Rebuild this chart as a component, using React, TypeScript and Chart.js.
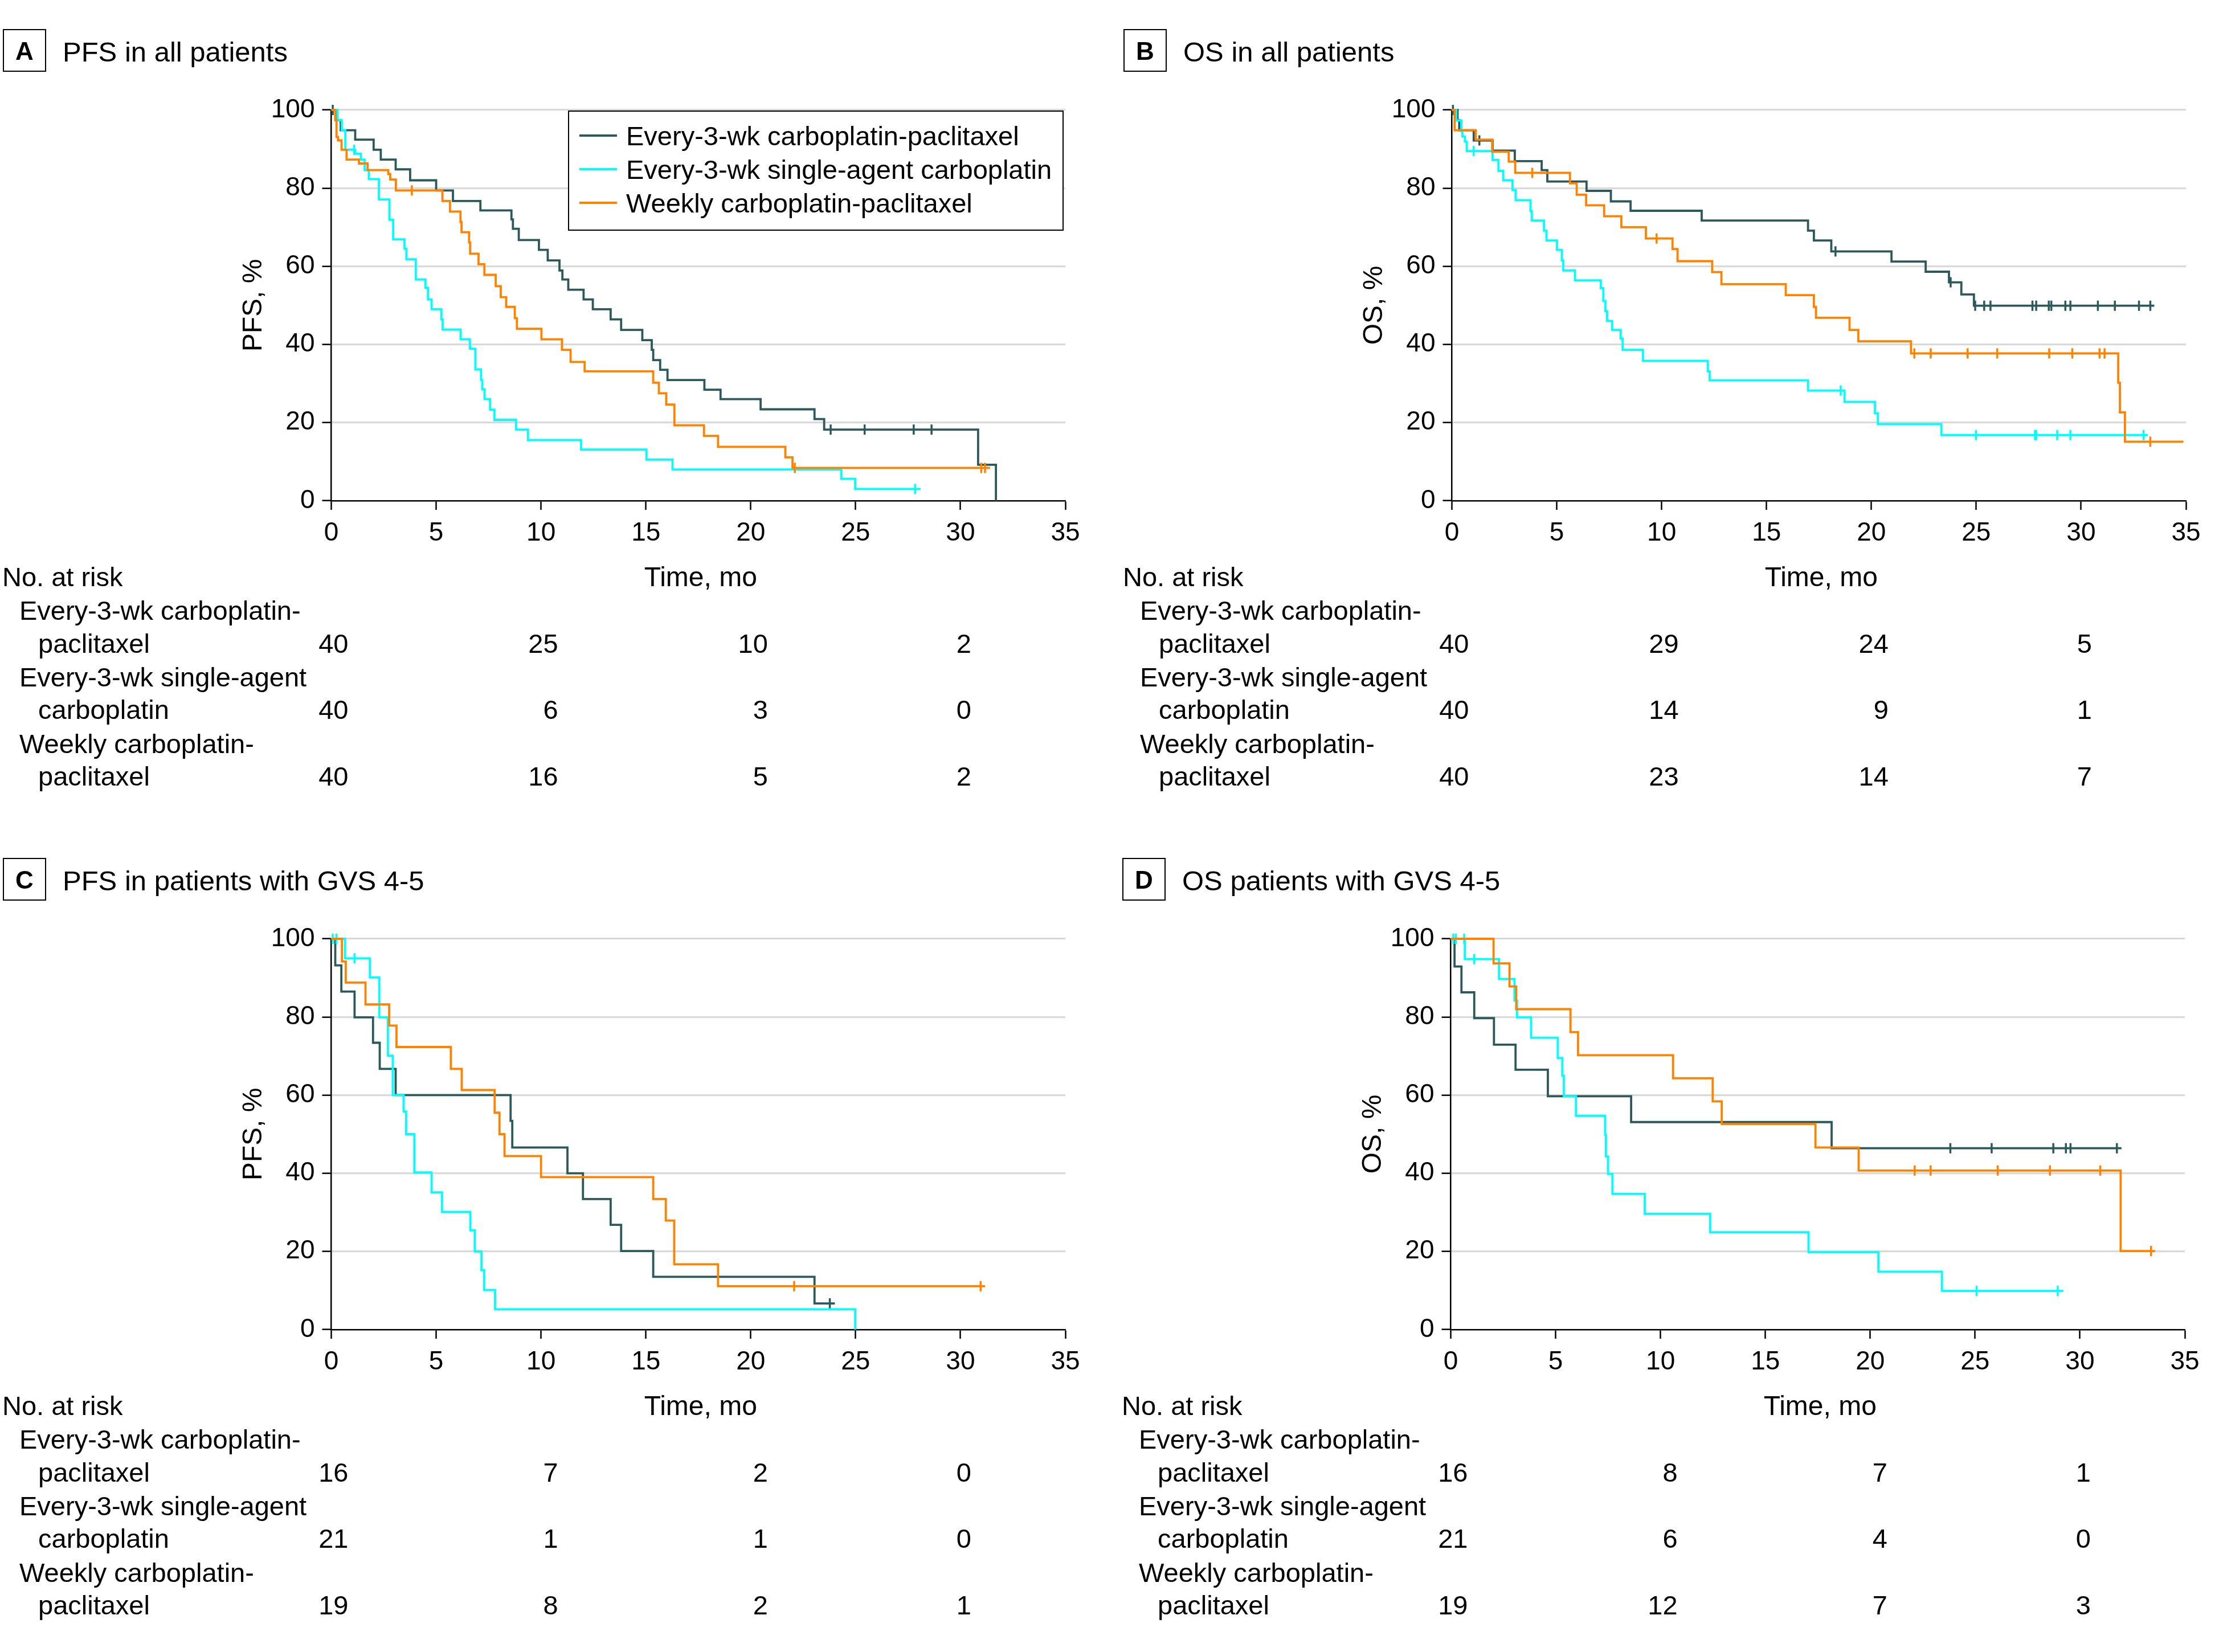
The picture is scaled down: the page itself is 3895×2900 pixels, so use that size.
import React, { useEffect, useRef } from "react";
import { Chart, registerables } from "chart.js";

Chart.register(...registerables);

type Pt = [number, number];

const FONT = "'Liberation Sans', Arial, Helvetica, sans-serif";

// ---------- series ----------
const seriesLabels = [
  "Every-3-wk carboplatin-paclitaxel",
  "Every-3-wk single-agent carboplatin",
  "Weekly carboplatin-paclitaxel",
];
const seriesColors = ["#2c5959", "#00ffff", "#ff8200"];
const drawOrder = [2, 1, 0];

const riskTimes = [0, 10, 20, 30];
const riskRowLabels = [
  ["Every-3-wk carboplatin-", "paclitaxel"],
  ["Every-3-wk single-agent", "carboplatin"],
  ["Weekly carboplatin-", "paclitaxel"],
];

// ---------- Panel A: PFS in all patients ----------
const pfsAllQ3wCP: Pt[] = [[0,100],[0.2,97.4],[0.45,94.8],[1.14,92.4],[2.02,89.8],[2.36,87.3],[3.07,84.8],[3.76,82.0],[5.0,79.4],[5.8,76.7],[7.11,74.3],[8.59,72.0],[8.66,69.6],[8.94,66.7],[9.9,64.2],[10.32,61.5],[10.88,58.9],[11.02,56.6],[11.3,54.0],[12.03,51.5],[12.47,49.0],[13.32,46.4],[13.82,43.7],[14.83,41.1],[15.28,38.6],[15.35,36.0],[15.68,33.5],[16.03,30.9],[17.79,28.4],[18.56,26.0],[20.47,23.4],[23.04,20.9],[23.5,18.2],[30.84,9.2],[31.69,0]];
const pfsAllQ3wCPCens: Pt[] = [[0.07,100],[23.81,18.2],[25.43,18.2],[27.77,18.2],[28.62,18.2]];
const pfsAllQ3wC: Pt[] = [[0,100],[0.3,97.4],[0.5,94.8],[0.67,89.8],[1.14,88.8],[1.41,87.3],[1.59,84.6],[1.79,82.3],[2.27,77.1],[2.77,71.9],[2.95,66.9],[3.49,64.5],[3.58,61.8],[4.03,56.6],[4.49,54.5],[4.61,51.5],[4.78,49.0],[5.25,46.4],[5.31,43.8],[6.17,41.3],[6.61,38.9],[6.87,33.6],[7.14,30.9],[7.2,28.5],[7.31,26.0],[7.57,23.3],[7.78,20.7],[8.81,18.2],[9.38,15.5],[11.91,13.1],[15.03,10.5],[16.27,8.0],[24.32,5.6],[24.98,3.0],[28.1,3.0]];
const pfsAllQ3wCCens: Pt[] = [[1.09,89.8],[27.84,3.0]];
const pfsAllWkCP: Pt[] = [[0,100],[0.19,97.4],[0.25,93.1],[0.32,92.2],[0.49,89.8],[0.73,87.3],[1.32,86.3],[1.73,84.6],[2.72,83.6],[2.81,82.2],[3.08,79.4],[5.3,76.7],[5.66,74.0],[6.16,71.3],[6.21,68.7],[6.57,66.1],[6.62,63.2],[7.02,60.5],[7.3,57.8],[7.84,54.9],[8.08,52.1],[8.34,49.6],[8.75,46.7],[8.85,44.0],[10.02,41.3],[11.0,38.6],[11.41,35.5],[12.08,33.1],[15.35,30.2],[15.62,27.5],[15.97,24.6],[16.36,19.3],[17.77,16.6],[18.44,13.8],[21.65,11.1],[21.99,8.4],[31.41,8.4]];
const pfsAllWkCPCens: Pt[] = [[3.84,79.4],[22.1,8.4],[30.99,8.4],[31.17,8.4]];
const riskPfsAllQ3wCP = [40, 25, 10, 2];
const riskPfsAllQ3wC = [40, 6, 3, 0];
const riskPfsAllWkCP = [40, 16, 5, 2];

// ---------- Panel B: OS in all patients ----------
const osAllQ3wCP: Pt[] = [[0,100],[0.27,97.4],[0.35,94.8],[1.04,92.2],[1.94,89.6],[3.0,86.9],[4.28,84.6],[4.55,81.7],[6.42,79.3],[7.58,76.6],[8.52,74.2],[11.91,71.7],[16.98,69.1],[17.26,66.6],[18.09,63.8],[20.96,61.2],[22.59,58.6],[23.7,55.9],[24.29,52.8],[24.89,49.9],[33.49,49.9]];
const osAllQ3wCPCens: Pt[] = [[0.05,100],[1.31,92.2],[18.29,63.8],[23.78,55.9],[24.95,49.9],[25.38,49.9],[25.68,49.9],[27.68,49.9],[27.86,49.9],[28.46,49.9],[28.58,49.9],[29.25,49.9],[29.49,49.9],[30.8,49.9],[31.61,49.9],[32.76,49.9],[33.3,49.9]];
const osAllQ3wC: Pt[] = [[0,100],[0.21,97.3],[0.45,94.6],[0.5,93.2],[0.62,91.9],[0.71,89.5],[1.94,87.2],[2.22,84.4],[2.45,82.0],[2.89,79.5],[3.04,76.9],[3.75,74.1],[3.81,71.7],[4.39,69.1],[4.51,66.6],[5.01,64.2],[5.24,61.5],[5.31,58.9],[5.87,56.4],[7.1,54.4],[7.22,51.1],[7.32,48.5],[7.4,46.0],[7.64,43.7],[8.05,41.5],[8.14,38.6],[9.11,35.8],[12.2,33.1],[12.29,30.8],[16.98,28.2],[18.72,25.3],[20.17,22.4],[20.31,19.6],[23.34,16.8],[33.18,16.8]];
const osAllQ3wCCens: Pt[] = [[1.04,89.5],[18.54,28.2],[24.99,16.8],[27.8,16.8],[27.86,16.8],[28.86,16.8],[29.49,16.8],[32.98,16.8]];
const osAllWkCP: Pt[] = [[0,100],[0.13,94.8],[1.14,92.4],[1.92,89.3],[2.71,86.8],[3.02,83.9],[5.63,81.2],[5.95,78.3],[6.4,75.6],[7.26,72.8],[8.08,70.0],[9.25,67.1],[10.52,64.4],[10.76,61.3],[12.41,58.5],[12.85,55.4],[15.92,52.6],[17.26,49.6],[17.36,46.8],[18.96,43.7],[19.38,40.8],[21.89,37.7],[31.77,30.2],[31.85,22.6],[32.09,15.1],[34.88,15.1]];
const osAllWkCPCens: Pt[] = [[3.83,83.9],[9.76,67.1],[22.05,37.7],[22.83,37.7],[24.59,37.7],[26.0,37.7],[28.48,37.7],[29.58,37.7],[30.88,37.7],[31.12,37.7],[33.3,15.1]];
const riskOsAllQ3wCP = [40, 29, 24, 5];
const riskOsAllQ3wC = [40, 14, 9, 1];
const riskOsAllWkCP = [40, 23, 14, 7];

// ---------- Panel C: PFS in patients with GVS 4-5 ----------
const pfsGvsQ3wCP: Pt[] = [[0,100],[0.19,93.2],[0.48,86.5],[1.11,79.9],[1.99,73.4],[2.31,66.7],[3.07,60.0],[8.55,53.4],[8.63,46.6],[11.26,40.0],[12.0,33.4],[13.32,26.8],[13.82,20.1],[15.35,13.5],[23.04,6.7],[24.01,6.7]];
const pfsGvsQ3wCPCens: Pt[] = [[23.77,6.7]];
const pfsGvsQ3wC: Pt[] = [[0,100],[0.66,95.0],[1.84,90.1],[2.29,79.9],[2.7,70.1],[2.93,60.0],[3.45,55.8],[3.57,50.0],[3.96,40.2],[4.78,35.1],[5.28,30.1],[6.63,25.4],[6.84,20.0],[7.16,15.2],[7.29,10.1],[7.81,5.2],[24.98,0]];
const pfsGvsQ3wCCens: Pt[] = [[0.07,100],[0.25,100],[1.11,95.0]];
const pfsGvsWkCP: Pt[] = [[0,100],[0.51,94.2],[0.69,88.8],[1.63,83.2],[2.76,77.8],[3.11,72.3],[5.7,66.7],[6.22,61.3],[7.79,55.5],[8.02,50.0],[8.26,44.4],[10.0,39.0],[15.35,33.4],[15.95,27.9],[16.35,16.7],[18.44,11.1],[31.17,11.1]];
const pfsGvsWkCPCens: Pt[] = [[22.07,11.1],[30.96,11.1]];
const riskPfsGvsQ3wCP = [16, 7, 2, 0];
const riskPfsGvsQ3wC = [21, 1, 1, 0];
const riskPfsGvsWkCP = [19, 8, 2, 1];

// ---------- Panel D: OS patients with GVS 4-5 ----------
const osGvsQ3wCP: Pt[] = [[0,100],[0.18,92.9],[0.51,86.3],[1.12,79.7],[2.06,72.9],[3.09,66.5],[4.63,59.7],[8.6,53.1],[18.16,46.4],[31.98,46.4]];
const osGvsQ3wCPCens: Pt[] = [[23.82,46.4],[25.79,46.4],[28.73,46.4],[29.33,46.4],[29.55,46.4],[31.76,46.4]];
const osGvsQ3wC: Pt[] = [[0,100],[0.67,94.8],[2.3,89.7],[3.04,84.2],[3.16,79.9],[3.83,74.7],[5.1,69.5],[5.32,65.0],[5.39,59.7],[5.97,54.7],[7.36,49.8],[7.4,44.3],[7.5,39.8],[7.71,34.7],[9.25,29.6],[12.37,24.9],[17.06,19.8],[20.39,14.8],[23.42,9.9],[29.21,9.9]];
const osGvsQ3wCCens: Pt[] = [[0.12,100],[0.24,100],[0.64,100],[1.12,94.8],[25.07,9.9],[28.94,9.9]];
const osGvsWkCP: Pt[] = [[0,100],[2.04,93.7],[2.8,87.8],[3.12,82.0],[5.71,76.1],[6.07,70.2],[10.6,64.3],[12.49,58.4],[12.92,52.6],[17.39,46.6],[19.45,40.7],[31.94,20.1],[33.58,20.1]];
const osGvsWkCPCens: Pt[] = [[22.12,40.7],[22.88,40.7],[26.08,40.7],[28.57,40.7],[30.97,40.7],[33.39,20.1]];
const riskOsGvsQ3wCP = [16, 8, 7, 1];
const riskOsGvsQ3wC = [21, 6, 4, 0];
const riskOsGvsWkCP = [19, 12, 7, 3];

// ---------- layout ----------
const CW = 1928;
const CH = 1445;
const AREA = { left: 581.5, right: 1870, top: 193, bottom: 879 };
const Y_AXIS_W = 120;
const X_AXIS_H = 100;
const RISK_RIGHT_OFFSETS = [30, 30, 30, 19];

interface Panel {
  letter: string;
  title: string;
  yTitle: string;
  curves: Pt[][];
  censors: Pt[][];
  risk: number[][];
  legend: boolean;
  left: number;
  top: number;
}

const panels: Panel[] = [
  { letter: "A", title: "PFS in all patients", yTitle: "PFS, %", curves: [pfsAllQ3wCP, pfsAllQ3wC, pfsAllWkCP], censors: [pfsAllQ3wCPCens, pfsAllQ3wCCens, pfsAllWkCPCens], risk: [riskPfsAllQ3wCP, riskPfsAllQ3wC, riskPfsAllWkCP], legend: true, left: 0, top: 0 },
  { letter: "B", title: "OS in all patients", yTitle: "OS, %", curves: [osAllQ3wCP, osAllQ3wC, osAllWkCP], censors: [osAllQ3wCPCens, osAllQ3wCCens, osAllWkCPCens], risk: [riskOsAllQ3wCP, riskOsAllQ3wC, riskOsAllWkCP], legend: false, left: 1967, top: 0 },
  { letter: "C", title: "PFS in patients with GVS 4-5", yTitle: "PFS, %", curves: [pfsGvsQ3wCP, pfsGvsQ3wC, pfsGvsWkCP], censors: [pfsGvsQ3wCPCens, pfsGvsQ3wCCens, pfsGvsWkCPCens], risk: [riskPfsGvsQ3wCP, riskPfsGvsQ3wC, riskPfsGvsWkCP], legend: false, left: 0, top: 1455 },
  { letter: "D", title: "OS patients with GVS 4-5", yTitle: "OS, %", curves: [osGvsQ3wCP, osGvsQ3wC, osGvsWkCP], censors: [osGvsQ3wCPCens, osGvsQ3wCCens, osGvsWkCPCens], risk: [riskOsGvsQ3wCP, riskOsGvsQ3wC, riskOsGvsWkCP], legend: false, left: 1965, top: 1455 },
];

function base(center: number, size: number) {
  return center + 0.358 * size;
}

function makeTextPlugin(panel: Panel) {
  return {
    id: "panelText" + panel.letter,
    afterDraw(chart: any) {
      const ctx: CanvasRenderingContext2D = chart.ctx;
      const area = chart.chartArea;
      const xs = chart.scales.x;
      ctx.save();
      ctx.fillStyle = "#000";
      ctx.strokeStyle = "#000";
      ctx.textBaseline = "alphabetic";

      // letter box
      ctx.lineWidth = 2;
      ctx.strokeRect(6, 52, 74, 73);
      ctx.font = `bold 44px ${FONT}`;
      ctx.textAlign = "center";
      ctx.fillText(panel.letter, 43, base(89, 44));

      // title
      ctx.font = `49px ${FONT}`;
      ctx.textAlign = "left";
      ctx.fillText(panel.title, 110, 108);

      // y axis title
      ctx.save();
      ctx.translate(442 + 0.358 * 48, (area.top + area.bottom) / 2);
      ctx.rotate(-Math.PI / 2);
      ctx.font = `48px ${FONT}`;
      ctx.textAlign = "center";
      ctx.fillText(panel.yTitle, 0, 0);
      ctx.restore();

      // x axis title
      ctx.font = `48px ${FONT}`;
      ctx.textAlign = "center";
      ctx.fillText("Time, mo", (area.left + area.right) / 2 + 4, base(1012, 48));

      // risk table
      const rs = 47;
      ctx.font = `${rs}px ${FONT}`;
      ctx.textAlign = "left";
      ctx.fillText("No. at risk", 4, base(1012, rs));
      const rowCenters = [[1071, 1129], [1188, 1245], [1305, 1362]];
      panel.risk.forEach((row, i) => {
        ctx.textAlign = "left";
        ctx.fillText(riskRowLabels[i][0], 34, base(rowCenters[i][0], rs));
        ctx.fillText(riskRowLabels[i][1], 67, base(rowCenters[i][1], rs));
        ctx.textAlign = "right";
        row.forEach((n, j) => {
          const px = xs.getPixelForValue(riskTimes[j]) + RISK_RIGHT_OFFSETS[j];
          ctx.fillText(String(n), px, base(rowCenters[i][1], rs));
        });
      });

      // legend
      if (panel.legend) {
        const bx = 998, by = 195, bw = 868, bh = 209;
        ctx.fillStyle = "#fff";
        ctx.fillRect(bx, by, bw, bh);
        ctx.lineWidth = 2;
        ctx.strokeStyle = "#000";
        ctx.strokeRect(bx, by, bw, bh);
        const rows = [238, 297, 356];
        const ls = 47;
        ctx.font = `${ls}px ${FONT}`;
        ctx.textAlign = "left";
        seriesLabels.forEach((lab, i) => {
          ctx.strokeStyle = seriesColors[i];
          ctx.lineWidth = 3.8;
          ctx.beginPath();
          ctx.moveTo(1017, rows[i]);
          ctx.lineTo(1083, rows[i]);
          ctx.stroke();
          ctx.fillStyle = "#000";
          ctx.fillText(lab, 1099, base(rows[i], ls));
        });
      }
      ctx.restore();
    },
  };
}

function PanelChart({ panel }: { panel: Panel }) {
  const ref = useRef<HTMLCanvasElement | null>(null);
  useEffect(() => {
    const canvas = ref.current;
    if (!canvas) return;
    const datasets: any[] = [];
    panel.curves.forEach((curve, i) => {
      datasets.push({
        type: "line",
        label: seriesLabels[i],
        data: curve.map(([x, y]) => ({ x, y })),
        borderColor: seriesColors[i],
        backgroundColor: seriesColors[i],
        borderWidth: 3.8,
        pointRadius: 0,
        pointHoverRadius: 0,
        stepped: true,
        fill: false,
        clip: false,
        order: drawOrder[i],
        borderCapStyle: "butt",
        borderJoinStyle: "miter",
      });
    });
    panel.censors.forEach((c, i) => {
      datasets.push({
        type: "scatter",
        label: seriesLabels[i] + " (censored)",
        data: c.map(([x, y]) => ({ x, y })),
        showLine: false,
        pointStyle: "line",
        pointRotation: 90,
        pointRadius: 9,
        pointHoverRadius: 9,
        pointBorderWidth: 3.5,
        pointBorderColor: seriesColors[i],
        pointBackgroundColor: seriesColors[i],
        borderColor: seriesColors[i],
        backgroundColor: seriesColors[i],
        clip: false,
        order: drawOrder[i],
      });
    });

    const tickFont = { family: FONT, size: 46 };
    const chart = new Chart(canvas, {
      type: "line",
      data: { datasets },
      options: {
        responsive: false,
        animation: false,
        devicePixelRatio: 1,
        events: [],
        layout: {
          autoPadding: false,
          padding: {
            left: AREA.left - Y_AXIS_W,
            right: CW - AREA.right,
            top: AREA.top,
            bottom: CH - AREA.bottom - X_AXIS_H,
          },
        },
        plugins: {
          legend: { display: false },
          tooltip: { enabled: false },
          title: { display: false },
        },
        scales: {
          x: {
            type: "linear",
            min: 0,
            max: 35,
            ticks: { stepSize: 5, color: "#000", font: tickFont, padding: 14, maxRotation: 0, autoSkip: false },
            grid: { drawOnChartArea: false, drawTicks: true, tickLength: 16, tickColor: "#000", tickWidth: 2.5 },
            border: { display: true, color: "#000", width: 2.5 },
            afterFit: (s: any) => {
              s.height = X_AXIS_H;
            },
          },
          y: {
            type: "linear",
            min: 0,
            max: 100,
            ticks: { stepSize: 20, color: "#000", font: tickFont, padding: 13 },
            grid: {
              color: (c: any) => (c.tick && c.tick.value === 0 ? "rgba(0,0,0,0)" : "#d9d9d9"),
              lineWidth: 3.3,
              drawTicks: true,
              tickLength: 16,
              tickColor: "#000",
              tickWidth: 2.5,
            },
            border: { display: true, color: "#000", width: 2.5 },
            afterFit: (s: any) => {
              s.width = Y_AXIS_W;
            },
          },
        },
      } as any,
      plugins: [makeTextPlugin(panel) as any],
    });
    return () => chart.destroy();
  }, [panel]);

  return (
    <canvas
      ref={ref}
      width={CW}
      height={CH}
      style={{ position: "absolute", left: panel.left, top: panel.top, width: CW, height: CH }}
    />
  );
}

export default function App() {
  useEffect(() => {
    document.body.style.margin = "0";
  }, []);
  return (
    <div
      style={{
        position: "absolute",
        left: 0,
        top: 0,
        width: 3895,
        height: 2900,
        background: "#fff",
        overflow: "hidden",
      }}
    >
      {panels.map((p) => (
        <PanelChart key={p.letter} panel={p} />
      ))}
    </div>
  );
}
